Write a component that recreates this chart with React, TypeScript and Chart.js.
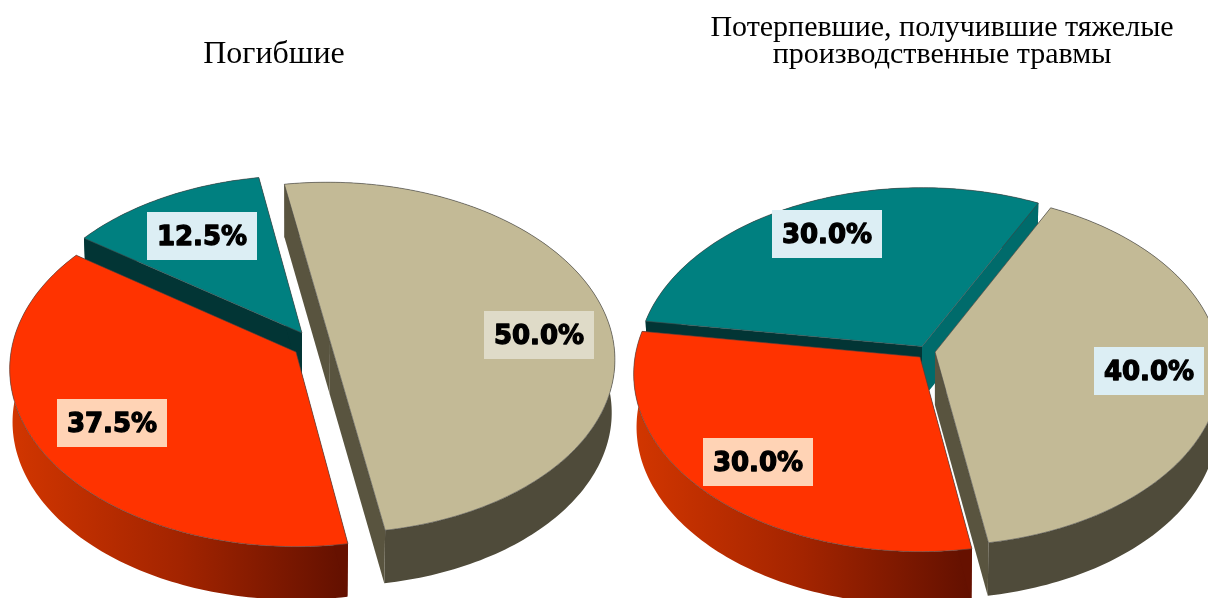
import React, { useEffect, useRef } from "react";
import { Chart, registerables } from "chart.js";

Chart.register(...registerables);

// ---- data ----
const categories = ["Категория А", "Категория Б", "Категория В"];
const deathsValues = [4, 3, 1];
const injuredValues = [4, 3, 3];
const deathsTitle = "Погибшие";
const injuredTitle = ["Потерпевшие, получившие тяжелые", "производственные травмы"];

// ---- styles ----
const topColors = ["#C3BA96", "#FF3300", "#008080"];
const outerWallColors = ["#4F4B3A", "", "#003C3C"];
const redWallStops = ["#D23600", "#A32400", "#621000"];
const drawOrder = [2, 0, 1];

type View = {
  cx: number;
  cy: number;
  explode: number[][];
  startWalls: string[];
  endWalls: string[];
  labelCenters: number[][];
  labelBoxes: string[];
};

const RADIUS = 285;
const TILT = 0.6175;
const PERSPECTIVE = 0.096;
const DEPTH = 53;
const TAPER = 0.99;

const deathsView: View = {
  cx: 296,
  cy: 352,
  explode: [[0.12, -0.063], [0, 0], [0.021, -0.109]],
  startWalls: ["#59543F", "#661100", "#023535"],
  endWalls: ["#59543F", "#661100", "#023535"],
  labelCenters: [[539, 335], [112, 423], [202, 236]],
  labelBoxes: ["#DFDBC8", "#FFD3B5", "#DCEEF4"],
};

const injuredView: View = {
  cx: 920,
  cy: 357,
  explode: [[0.053, -0.028], [0, 0], [0.007, -0.06]],
  startWalls: ["#59543F", "#661100", "#023535"],
  endWalls: ["#59543F", "#661100", "#006B6B"],
  labelCenters: [[1149, 371], [758, 462], [827, 234]],
  labelBoxes: ["#DCEEF4", "#FFD3B5", "#DCEEF4"],
};

function project(v: View, r: number, X: number, Y: number, low: boolean) {
  const s = 1 / (1 - PERSPECTIVE * Y);
  let x = v.cx + r * X * s;
  let y = v.cy + r * TILT * Y * s;
  if (low) {
    x = v.cx + (x - v.cx) * TAPER;
    y += DEPTH;
  }
  return [x, y];
}

function fillPoly(ctx: CanvasRenderingContext2D, pts: number[][], fill: any) {
  ctx.beginPath();
  pts.forEach((p, i) => (i ? ctx.lineTo(p[0], p[1]) : ctx.moveTo(p[0], p[1])));
  ctx.closePath();
  ctx.fillStyle = fill;
  ctx.fill();
}

function makePie3d(view: View) {
  return {
    id: "pie3d",
    beforeDatasetsDraw(chart: any) {
      const ctx: CanvasRenderingContext2D = chart.ctx;
      const meta = chart.getDatasetMeta(0);
      const values: number[] = chart.data.datasets[0].data;
      const total = values.reduce((a, b) => a + b, 0);
      ctx.save();
      for (const i of drawOrder) {
        const arc = meta.data[i];
        const r = arc.outerRadius;
        const [ex, ey] = view.explode[i];
        const steps = Math.max(8, Math.ceil((arc.endAngle - arc.startAngle) / 0.02));
        const rim: number[][] = [];
        for (let k = 0; k <= steps; k++) {
          const a = arc.startAngle + ((arc.endAngle - arc.startAngle) * k) / steps;
          rim.push([ex + Math.cos(a), ey + Math.sin(a)]);
        }
        const top = rim.map((p) => project(view, r, p[0], p[1], false));
        const low = rim.map((p) => project(view, r, p[0], p[1], true));
        const apexTop = project(view, r, ex, ey, false);
        const apexLow = project(view, r, ex, ey, true);

        // outer wall
        let wall: any = outerWallColors[i];
        if (!wall) {
          const xs = top.map((p) => p[0]);
          wall = ctx.createLinearGradient(Math.min(...xs), 0, Math.max(...xs), 0);
          redWallStops.forEach((c, n) => wall.addColorStop(n / (redWallStops.length - 1), c));
        }
        fillPoly(ctx, [...top, ...low.slice().reverse()], wall);

        // cut faces
        fillPoly(ctx, [apexTop, top[0], low[0], apexLow], view.startWalls[i]);
        fillPoly(ctx, [apexTop, top[steps], low[steps], apexLow], view.endWalls[i]);

        // top surface
        fillPoly(ctx, [apexTop, ...top], arc.options.backgroundColor);
        ctx.lineWidth = arc.options.borderWidth;
        ctx.strokeStyle = arc.options.borderColor;
        ctx.lineJoin = "round";
        ctx.stroke();
      }

      // value labels
      ctx.textAlign = "center";
      ctx.textBaseline = "middle";
      ctx.font = "bold 26px 'DejaVu Sans'";
      values.forEach((v, i) => {
        const [x, y] = view.labelCenters[i];
        ctx.fillStyle = view.labelBoxes[i];
        ctx.fillRect(x - 55, y - 24, 110, 48);
        ctx.fillStyle = "#000000";
        ctx.strokeStyle = "#000000";
        ctx.lineWidth = 1.3;
        const text = ((v / total) * 100).toFixed(1) + "%";
        ctx.fillText(text, x, y + 2);
        ctx.strokeText(text, x, y + 2);
      });
      ctx.restore();
      return false;
    },
  };
}

function makeChart(
  canvas: HTMLCanvasElement,
  values: number[],
  rotation: number,
  view: View,
  title: string | string[],
  titleSize: number,
  padLeft: number,
  padRight: number,
  titleTop: number
) {
  return new Chart(canvas, {
    type: "pie",
    data: {
      labels: categories,
      datasets: [
        {
          data: values,
          backgroundColor: topColors,
          borderColor: "rgba(70,70,70,0.6)",
          borderWidth: 1,
        },
      ],
    },
    options: {
      responsive: false,
      animation: false,
      events: [],
      rotation,
      radius: RADIUS,
      layout: { padding: { left: padLeft, right: padRight, top: 0, bottom: 0 } },
      plugins: {
        legend: { display: false },
        tooltip: { enabled: false },
        title: {
          display: true,
          text: title,
          color: "#000000",
          font: { family: "'Liberation Serif'", size: titleSize, weight: "normal", lineHeight: 0.9 },
          padding: { top: titleTop, bottom: 0 },
        },
      },
    },
    plugins: [makePie3d(view)],
  } as any);
}

export default function App() {
  const leftRef = useRef<HTMLCanvasElement>(null);
  const rightRef = useRef<HTMLCanvasElement>(null);
  useEffect(() => {
    const a = makeChart(leftRef.current!, deathsValues, -9.5, deathsView, deathsTitle, 32, 0, 660, 40);
    const b = makeChart(rightRef.current!, injuredValues, 26.5, injuredView, injuredTitle, 30, 676, 0, 15);
    return () => {
      a.destroy();
      b.destroy();
    };
  }, []);
  const layer: React.CSSProperties = { position: "absolute", left: 0, top: 0, display: "block" };
  return (
    <div style={{ position: "fixed", left: 0, top: 0, width: 1208, height: 598, overflow: "hidden", background: "#fff" }}>
      <canvas ref={leftRef} width={1208} height={598} style={layer} />
      <canvas ref={rightRef} width={1208} height={598} style={layer} />
    </div>
  );
}
